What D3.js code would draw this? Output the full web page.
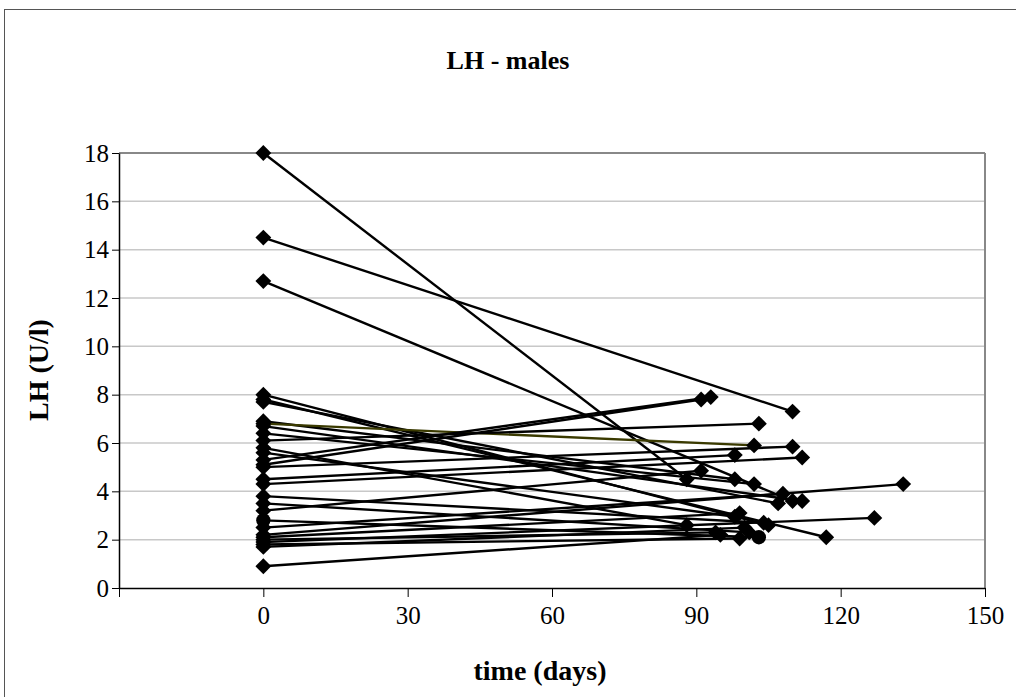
<!DOCTYPE html>
<html><head><meta charset="utf-8">
<script src="https://cdn.jsdelivr.net/npm/d3@7"></script>
<style>body{margin:0;background:#fff}svg{display:block}text{font-family:"Liberation Serif","Times New Roman",serif}</style>
</head><body><svg id="c" width="1016" height="697"></svg>
<script>
// each subject: day-0 value, follow-up day, follow-up value
const startValues = [18, 14.5, 12.7, 8.0, 7.8, 7.7, 6.9, 6.8, 6.7, 6.4, 6.1, 5.8, 5.6, 5.3, 5.1, 5.0, 4.5, 4.3, 3.8, 3.5, 3.2, 2.8, 2.5, 2.2, 2.1, 2.0, 1.9, 1.8, 1.7, 0.9];
const endDays   = [88, 110, 110, 105, 117, 107, 98, 102, 112, 102, 103, 88, 98, 93, 91, 110, 98, 112, 104, 101, 91, 103, 108, 133, 99, 94, 127, 99, 100, 95];
const endValues = [4.5, 7.3, 3.6, 2.6, 2.1, 3.5, 4.5, 5.9, 3.6, 4.3, 6.8, 2.6, 2.95, 7.9, 7.8, 5.85, 5.5, 5.4, 2.7, 2.3, 4.85, 2.1, 3.9, 4.3, 3.1, 2.3, 2.9, 2.05, 2.5, 2.2];
const markerTypes = startValues.map((v,i)=> i===21 ? "circle" : "diamond");
const lineColors = startValues.map((v,i)=> i===7 ? "#3a3a00" : "#000");
const xTicks = [-30, 0, 30, 60, 90, 120, 150];
const xLabels = ["", "0", "30", "60", "90", "120", "150"];
const yTicks = [0, 2, 4, 6, 8, 10, 12, 14, 16, 18];

const svg = d3.select("#c");
svg.append("rect").attr("x",4.5).attr("y",9.5).attr("width",1030).attr("height",700)
  .attr("fill","#fff").attr("stroke","#555").attr("stroke-width",1);

const x = d3.scaleLinear().domain([-30,150]).range([119,985]);
const y = d3.scaleLinear().domain([0,18]).range([588,153]);

// gridlines
svg.append("g").selectAll("line").data(yTicks.filter(d=>d>0)).join("line")
  .attr("x1",x(-30)).attr("x2",x(150)).attr("y1",d=>y(d)).attr("y2",d=>y(d))
  .attr("stroke",d=>d===18?"#888":"#c8c8c8").attr("stroke-width",d=>d===18?2:1.5);
// right border of plot area
svg.append("line").attr("x1",x(150)).attr("x2",x(150)).attr("y1",y(18)).attr("y2",y(0))
  .attr("stroke","#888").attr("stroke-width",2);

// axes
const xAxis = d3.axisBottom(x).tickValues(xTicks).tickFormat((d,i)=>xLabels[i]).tickSize(9).tickSizeOuter(0);
const gx = svg.append("g").attr("transform",`translate(0,${y(0)})`).call(xAxis);
gx.select(".domain").attr("stroke","#000").attr("stroke-width",1.5);
gx.selectAll(".tick line").attr("stroke","#000");
gx.selectAll("text").attr("font-size",25).attr("y",18).attr("dy","0.71em").attr("fill","#000");

const yAxis = d3.axisLeft(y).tickValues(yTicks).tickSize(7).tickSizeOuter(0);
const gy = svg.append("g").attr("transform",`translate(${x(-30)},0)`).call(yAxis);
gy.select(".domain").attr("stroke","#000").attr("stroke-width",1.5);
gy.selectAll(".tick line").attr("stroke","#000");
gy.selectAll("text").attr("font-size",25).attr("x",-10).attr("fill","#000");

// lines
const subjects = startValues.map((v,i)=>({a:[0,v], b:[endDays[i],endValues[i]], m:markerTypes[i], c:lineColors[i]}));
svg.append("g").selectAll("line").data(subjects).join("line")
  .attr("x1",d=>x(d.a[0])).attr("y1",d=>y(d.a[1]))
  .attr("x2",d=>x(d.b[0])).attr("y2",d=>y(d.b[1]))
  .attr("stroke",d=>d.c).attr("stroke-width",2.4);

const pts = subjects.flatMap(d=>[{p:d.a,m:d.m},{p:d.b,m:d.m}]);
const diamond = d3.symbol().type(d3.symbolDiamond2).size(160);
svg.append("g").selectAll("path").data(pts).join("path")
  .attr("transform",d=>`translate(${x(d.p[0])},${y(d.p[1])})`)
  .attr("d",d=> d.m==="circle" ? d3.symbol().type(d3.symbolCircle).size(160)() : diamond())
  .attr("fill","#000");

// titles
svg.append("text").attr("x",508).attr("y",69).attr("text-anchor","middle")
  .attr("font-size",26).attr("font-weight","bold").text("LH - males");
svg.append("text").attr("x",540).attr("y",680).attr("text-anchor","middle")
  .attr("font-size",28).attr("font-weight","bold").text("time (days)");
svg.append("text").attr("transform","translate(48,370) rotate(-90)").attr("text-anchor","middle")
  .attr("font-size",28).attr("font-weight","bold").text("LH (U/l)");
</script></body></html>
